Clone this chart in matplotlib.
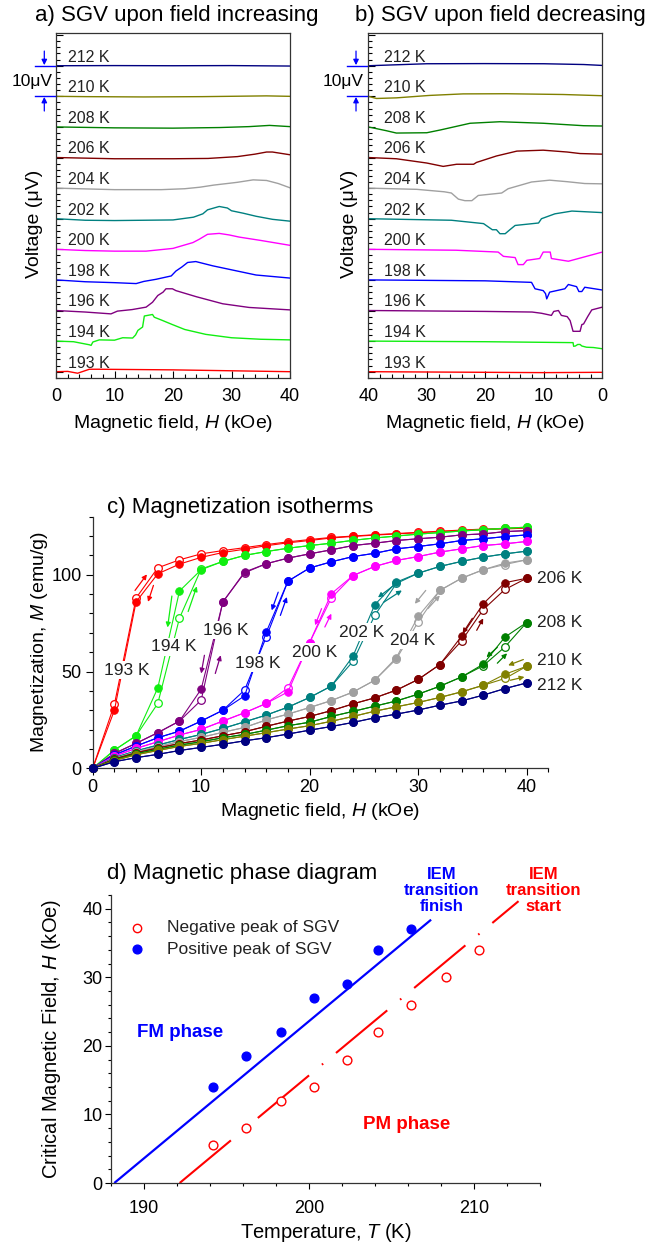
import numpy as np
import matplotlib
matplotlib.use("Agg")
import matplotlib.pyplot as plt
from matplotlib.ticker import MultipleLocator, NullFormatter

plt.rcParams['font.family'] = ['Liberation Sans', 'DejaVu Sans']
plt.rcParams['mathtext.fontset'] = 'custom'
plt.rcParams['mathtext.rm'] = 'Liberation Sans'
plt.rcParams['mathtext.it'] = 'Liberation Sans:italic'

W, Hpx = 667, 1242

temps = [193, 194, 196, 198, 200, 202, 204, 206, 208, 210, 212]
colors = ['#ff0000', '#11ee11', '#800080', '#0000ff', '#ff00ff', '#008080',
          '#a0a0a0', '#800000', '#008000', '#808000', '#000080']

# ---- a) SGV, field increasing: (H kOe, signal uV relative to baseline)
inc_193 = [(0, 0), (2, 0.1), (3.7, -0.5), (5.7, 0.8), (7.4, 0.8), (20, 0.6), (30, 0.3), (40, 0)]
inc_194 = [(0, 0), (3, -0.2), (5.7, -1.2), (6.0, -1.4), (6.3, -0.3), (7.4, 0.4), (10, 0.3),
           (11.4, 1.1), (13.1, 1.0), (13.6, 2.0), (14, 3.5), (14.8, 4.6), (15.1, 8.2),
           (16.5, 8.7), (16.8, 7.8), (18, 6.9), (19.9, 5.4), (22, 3.8), (25.6, 2.2),
           (30, 1.1), (35, 0.6), (40, 0.4)]
inc_196 = [(0, 0), (5, -0.5), (9.4, -1.1), (10.5, -0.2), (13, 0.3), (15.4, 1.1), (16.5, 2.7),
           (17.4, 4.9), (18.3, 6.0), (18.8, 7.1), (19.9, 7.1), (20.5, 6.5), (24, 4.5),
           (28.5, 2.2), (33, 1.0), (40, 0.2)]
inc_198 = [(0, 0), (5, -0.6), (10, -0.9), (13.7, -1.2), (15, -0.5), (17.1, 0.2), (19.7, 1.3),
           (20.5, 2.9), (21.5, 4.2), (22.5, 5.7), (23.9, 6.0), (26.8, 4.6), (30, 3.3),
           (34.2, 1.6), (40, 0.6)]
inc_200 = [(0, 0), (5, -0.4), (10, -0.6), (15.4, -0.6), (20, 0.3), (23.4, 2.2), (24.5, 3.3),
           (25.9, 4.9), (27.9, 5.2), (29.6, 4.7), (31.3, 4.0), (35, 2.9), (40, 1.3)]
inc_202 = [(0, 0), (5, -0.5), (10, -0.6), (20, -0.4), (23.5, 0.5), (25.1, 1.6), (25.9, 2.9),
           (27.9, 4.0), (29.3, 3.5), (30, 2.6), (32, 1.8), (34.2, 0.8), (37, -0.2), (40, -0.8)]
inc_204 = [(0, 0), (10, -0.5), (18, -0.5), (22, -0.2), (24.6, 0.3), (27, 1.0), (29.7, 1.6),
           (31, 1.9), (33.7, 2.7), (36, 2.5), (38, 1.5), (40, 0.1)]
inc_206 = [(0, 0), (10, -0.4), (20, -0.4), (26, -0.3), (31, 0.3), (34, 1.1), (36, 1.8),
           (37, 1.8), (40, 0.9)]
inc_208 = [(0, 0), (10, -0.3), (20, -0.4), (28, -0.2), (33, 0.1), (36.5, 0.5), (40, 0.1)]
inc_210 = [(0, 0), (5, -0.1), (15, -0.2), (25, -0.1), (36, 0.15), (40, 0)]
inc_212 = [(0, 0), (10, 0.05), (20, 0), (30, 0.05), (40, -0.1)]

# ---- b) SGV, field decreasing
dec_193 = [(40, 0), (20, -0.2), (10, -0.3), (0, -0.2)]
dec_194 = [(40, 0), (20, -0.2), (5, -0.5), (4.9, -1.7), (4.6, -1.6), (4.2, -1.1), (3.8, -1.1),
           (3.5, -1.6), (2.7, -2.0), (1.5, -2.1), (0, -2.5)]
dec_196 = [(40, 0), (20, -0.3), (12, -0.5), (10.4, -0.9), (8.7, -1.6), (8.3, -0.3), (7.5, 0),
           (7.0, -1.6), (6.0, -2.0), (5.5, -3.3), (5.0, -6.8), (3.8, -6.8), (3.5, -4.6),
           (3.2, -4.4), (2.5, -2), (1.8, 0.2), (0, 1.1)]
dec_198 = [(40, 0), (20, -0.3), (12.1, -0.8), (11.5, -2.9), (10.1, -3.5), (9.7, -4.5),
           (9.5, -6.2), (9.0, -4.0), (6.4, -2.9), (5.8, -1.5), (4.4, -2.2), (4.0, -3.8),
           (3.5, -3.8), (3.0, -2.4), (0, -3.3)]
dec_200 = [(40, 0), (25, -0.3), (17.8, -0.9), (16.9, -2.3), (14.9, -2.7), (14.4, -5.0),
           (13.5, -5.0), (12.9, -3.6), (10.7, -3.0), (10.1, -0.9), (8.9, -0.9), (8.7, -3.0),
           (5.8, -3.9), (0, -0.9)]
dec_202 = [(40, 0), (25.8, -0.5), (20.3, -1.6), (18.8, -3.6), (18.1, -3.6), (17.5, -4.9),
           (16.6, -4.9), (15.8, -3.6), (14.9, -2.2), (10.9, -1.4), (10.4, 0), (8.1, 1.6),
           (5.2, 2.5), (0, 2.0)]
dec_204 = [(40, 0), (31.7, -0.4), (27, -1.2), (25.8, -1.6), (24.6, -3.6), (23.5, -4.1),
           (22.3, -4.1), (21.2, -2.4), (17.2, -1.6), (16.1, -0.2), (12.1, 2.0), (9, 2.6),
           (6, 2.1), (3, 1.5), (0, 1.4)]
dec_206 = [(40, 0), (35.2, -0.4), (30, -1.8), (27.2, -2.9), (24.9, -2.2), (22, -2.2),
           (21.5, -1.6), (18.1, 0.5), (14.6, 2.1), (10.1, 2.4), (6, 1.8), (3.8, 1.3), (0, 1.1)]
dec_208 = [(40, 0), (37, -1.2), (35.2, -2.0), (30, -1.9), (27.7, -1.0), (22.6, 1.2),
           (17.5, 1.7), (10.1, 1.2), (3.2, 0.4), (0, 0.3)]
dec_210 = [(40, 0), (38.6, -0.7), (35.2, -0.5), (29.5, 0.3), (23.8, 0.8), (16.4, 0.85),
           (6.7, 0.6), (0, 0.2)]
dec_212 = [(40, 0), (30, 0.65), (20.3, 0.7), (10, 0.65), (3.2, 0.4), (0, 0.1)]

inc_traces = [inc_193, inc_194, inc_196, inc_198, inc_200, inc_202, inc_204, inc_206,
              inc_208, inc_210, inc_212]
dec_traces = [dec_193, dec_194, dec_196, dec_198, dec_200, dec_202, dec_204, dec_206,
              dec_208, dec_210, dec_212]

# ---- c) magnetization isotherms, M (emu/g) at H = 0..40 kOe
H_field = [0, 2, 4, 6, 8, 10, 12, 14, 16, 18, 20, 22, 24, 26, 28, 30, 32, 34, 36, 38, 40]
M193_up = [0, 30, 86, 100.5, 105.5, 109, 111.5, 113.2, 115, 116.5, 117.7, 119, 119.8, 120.5,
           121.1, 121.7, 122.3, 122.8, 123.3, 123.7, 124.1]
M193_dn = [0, 33, 88, 103.6, 107.7, 110.8, 112.5, 114, 115.6, 117, 118.2, 119.3, 120, 120.7,
           121.3, 121.9, 122.5, 123.1, 123.6, 124, 124.4]
M194_up = [0, 9.4, 16.8, 41.5, 91.6, 102.6, 106.9, 110, 112, 113.7, 115.1, 116.3, 117.8, 119,
           120, 121, 121.8, 122.6, 123.3, 124, 124.6]
M194_dn = [0, 9.4, 16.8, 33.5, 77.6, 103, 106.9, 110, 112, 113.7, 115.1, 116.3, 117.8, 119,
           120, 121, 121.8, 122.6, 123.3, 124, 124.6]
M196_up = [0, 7.7, 12.9, 18.4, 24.4, 40.9, 85.9, 101.4, 105.7, 108.6, 110.8, 112.9, 115.1,
           116.3, 117.7, 118.6, 119.4, 120.6, 121.1, 122.3, 122.8]
M196_dn = [0, 7.7, 12.9, 18.4, 24.4, 35.2, 86, 101, 105.7, 108.6, 110.8, 112.9, 115.1,
           116.3, 117.7, 118.6, 119.4, 120.6, 121.1, 122.3, 122.8]
M198_up = [0, 6.9, 11.5, 15.8, 19.2, 24.4, 30, 37.4, 70.4, 96.7, 103.5, 106.7, 109.4, 111.1,
           113.4, 114.6, 116, 117.7, 118.6, 119.7, 120.6]
M198_dn = [0, 6.9, 11.5, 15.8, 19.2, 24.4, 30, 40.4, 67.8, 96.7, 103.5, 106.7, 109.4, 111.1,
           113.4, 114.6, 116, 117.7, 118.6, 119.7, 120.6]
M200_up = [0, 6.3, 10.3, 13.7, 17.2, 20.1, 24.4, 28.7, 33.5, 39.5, 65, 90.2, 99.6, 104.3,
           107.4, 109.4, 111.7, 113.4, 115.1, 116, 117.2]
M200_dn = [0, 6.3, 10.3, 13.7, 17.2, 20.1, 24.4, 28.7, 33.5, 41.5, 65, 88, 99.6, 104.3,
           107.4, 109.4, 111.7, 113.4, 115.1, 116, 117.2]
M202_up = [0, 5.5, 9, 12, 14.9, 17.5, 20.6, 24, 27.5, 31.6, 36.6, 42.5, 58, 84.5, 96.2, 100.8,
           104.3, 106.9, 109.1, 110.8, 112.2]
M202_dn = [0, 5.5, 9, 12, 14.9, 17.5, 20.6, 24, 27.5, 31.6, 36.6, 42.5, 55.3, 79, 95.5, 100.8,
           104.3, 106.9, 109.1, 110.8, 112.2]
M204_up = [0, 5, 8.5, 11.2, 13.8, 16, 18.6, 21.1, 25, 28, 31.4, 35, 39.4, 45.5, 57.2, 78.5,
           91.9, 98.2, 102.6, 106, 107.7]
M204_dn = [0, 5, 8.5, 11.2, 13.8, 16, 18.6, 21.1, 25, 28, 31.4, 35, 39.4, 45.5, 56.5, 75.6,
           91.9, 98.2, 102.6, 105.3, 107.7]
M206_up = [0, 4.8, 8, 10.5, 12.8, 14.6, 16.8, 18.9, 21.7, 24.4, 26.8, 29.8, 33.3, 36.4, 40.4,
           45.9, 53.6, 68.2, 85, 95.9, 98.2]
M206_dn = [0, 4.8, 8, 10.5, 12.8, 14.6, 16.8, 18.9, 21.7, 24.4, 26.8, 29.8, 33.3, 36.4, 40.4,
           45.9, 53.6, 65.8, 82, 92.4, 98.2]
M208_up = [0, 4.3, 7.5, 9.8, 12, 13.7, 15.8, 17.5, 19.7, 22, 23.8, 26.8, 29.4, 32.1, 34.8,
           38.3, 42.4, 47.2, 53.8, 67.8, 75.3]
M208_dn = [0, 4.3, 7.5, 9.8, 12, 13.7, 15.8, 17.5, 19.7, 22, 23.8, 26.8, 29.4, 32.1, 34.8,
           38.3, 42.4, 47.2, 53, 62.7, 75.3]
M210_up = [0, 4, 7, 9.2, 11.3, 12.9, 14.8, 16.6, 18.4, 20.3, 22, 24.3, 26.8, 29.5, 31.8, 34,
           36.6, 39.5, 42.9, 48.6, 52.7]
M210_dn = [0, 4, 7, 9.2, 11.3, 12.9, 14.8, 16.6, 18.4, 20.3, 22, 24.3, 26.8, 29.5, 31.8, 34,
           36.6, 39.5, 42.9, 46.4, 52.7]
M212_up = [0, 3.4, 5.5, 7.2, 9.2, 10.8, 12.4, 14.2, 15.8, 17.7, 19.7, 21.6, 23.7, 26.1, 28,
           30.1, 32.6, 34.8, 37.8, 41.2, 44.1]
M212_dn = M212_up

M_up = [M193_up, M194_up, M196_up, M198_up, M200_up, M202_up, M204_up, M206_up, M208_up,
        M210_up, M212_up]
M_dn = [M193_dn, M194_dn, M196_dn, M198_dn, M200_dn, M202_dn, M204_dn, M206_dn, M208_dn,
        M210_dn, M212_dn]

# direction arrows beside each transition: (temperature, tail, tip) in (H, M)
arrows_c = [
    (193, (3.9, 91.9), (5.0, 100.2)), (193, (5.6, 94.5), (5.1, 86.0)),
    (194, (7.3, 89.0), (6.9, 72.8)), (194, (8.8, 81.0), (9.6, 94.0)),
    (196, (10.3, 58.4), (10.0, 49.0)), (196, (11.3, 49.0), (11.8, 58.4)),
    (198, (17.1, 91.0), (16.5, 81.6)), (198, (17.3, 79.0), (17.9, 88.5)),
    (200, (21.1, 82.5), (20.5, 73.9)), (200, (21.4, 73.0), (22.0, 79.9)),
    (202, (28.0, 95.5), (26.3, 88.3)), (202, (26.8, 85.7), (28.5, 91.9)),
    (204, (30.7, 91.9), (29.7, 85.0)), (204, (30.9, 82.5), (32.0, 89.3)),
    (206, (35.0, 77.5), (34.1, 69.7)), (206, (35.4, 71.3), (36.0, 77.5)),
    (208, (37.3, 62.5), (36.3, 57.4)), (208, (37.3, 54.3), (38.2, 59.4)),
    (210, (39.7, 56.2), (38.3, 53.2)), (210, (38.5, 45.5), (39.8, 47.2)),
]
# label anchor positions (H, M) in panel c
labels_c = [(3.1, 50.7), (7.5, 62.7), (12.3, 71.3), (15.2, 54.3), (20.5, 60.0), (24.8, 70.4),
            (29.5, 66.1), (40.95, 98.2), (40.95, 75.3), (40.95, 55.5), (40.95, 42.9)]

# ---- d) phase diagram
T_neg = [194.2, 196.2, 198.3, 200.3, 202.3, 204.2, 206.2, 208.3, 210.3]
H_neg = [5.5, 8, 12, 14, 18, 22, 26, 30, 34]
T_pos = [194.2, 196.2, 198.3, 200.3, 202.3, 204.2, 206.2]
H_pos = [14, 18.5, 22, 27, 29, 34, 37]
fit_finish_T = [188.2, 207.4]
fit_finish_H = [0, 38.4]
fit_start_T = [192.16, 212.7]
fit_start_H = [0, 41.1]


def box(l, t, r, b):
    return [l / W, 1 - b / Hpx, (r - l) / W, (b - t) / Hpx]


fig = plt.figure(figsize=(W / 100, Hpx / 100), dpi=100)

# ---------------- panels a and b
for k, (traces, title, tx) in enumerate([(inc_traces, 'a) SGV upon field increasing', 35),
                                         (dec_traces, 'b) SGV upon field decreasing', 355)]):
    left = 56 if k == 0 else 368.3
    ax = fig.add_axes(box(left, 33, left + 234, 378))
    for i, (tr, c, T) in enumerate(zip(traces, colors, temps)):
        arr = np.array(tr, dtype=float)
        ax.plot(arr[:, 0], arr[:, 1] + 10 * i, color=c, lw=1.0)
        lx = 2.0 if k == 0 else 37.4
        ax.text(lx, 10 * i + 2.8, f'{T} K', fontsize=11.5, ha='left', va='center',
                color='#222222')
    ax.set_ylim(-2.06, 110.7)
    if k == 0:
        ax.set_xlim(0, 40)
    else:
        ax.set_xlim(40, 0)
    ax.xaxis.set_major_locator(MultipleLocator(10))
    ax.xaxis.set_minor_locator(MultipleLocator(2))
    ax.yaxis.set_major_locator(MultipleLocator(10))
    ax.yaxis.set_minor_locator(MultipleLocator(2))
    ax.yaxis.set_major_formatter(NullFormatter())
    ax.tick_params(which='both', direction='in', width=0.8, labelsize=13, pad=7)
    ax.tick_params(which='major', length=5)
    ax.tick_params(which='minor', length=3)
    for s in ax.spines.values():
        s.set_linewidth(0.9)
        s.set_color('#333333')
    ax.set_xlabel('Magnetic field, $H$ (kOe)', fontsize=14, labelpad=6)
    ax.set_ylabel('Voltage (μV)', fontsize=14)
    ax.yaxis.set_label_coords(-0.056 if k == 0 else -0.044, 0.446)
    fig.text(tx / W, 1 - 15 / Hpx, title, fontsize=16, ha='left', va='center')

    # 10 uV scale bar outside left spine
    if k == 0:
        xs, xa, xt = -3.6, -2.0, -4.0
    else:
        xs, xa, xt = 43.7, 42.1, 44.3
    for yv in (100, 90):
        ax.plot([xs, 0 if k == 0 else 40], [yv, yv], color='#0000ff', lw=1.0, clip_on=False)
    ax.annotate('', xy=(xa, 100.2), xytext=(xa, 104.8), annotation_clip=False,
                arrowprops=dict(arrowstyle='-|>', color='#0000ff', lw=0.9, mutation_scale=8,
                                shrinkA=0, shrinkB=0))
    ax.annotate('', xy=(xa, 89.8), xytext=(xa, 85.2), annotation_clip=False,
                arrowprops=dict(arrowstyle='-|>', color='#0000ff', lw=0.9, mutation_scale=8,
                                shrinkA=0, shrinkB=0))
    ax.text(xt, 95, '10μV', fontsize=12.5, ha='center', va='center', clip_on=False)

# ---------------- panel c
axc = fig.add_axes(box(92.7, 516.7, 548.3, 768.3))
for i, (T, c) in enumerate(zip(temps, colors)):
    axc.plot(H_field, M_dn[i], '-o', color=c, lw=0.8, ms=5.5, mew=0.9,
             mfc='white', mec=c, zorder=2 + i * 0.1, clip_on=False)
    axc.plot(H_field, M_up[i], '-o', color=c, lw=0.8, ms=5.5, mew=0.6,
             mfc=c, mec=c, zorder=2.05 + i * 0.1, clip_on=False)
for T, tail, tip in arrows_c:
    c = colors[temps.index(T)]
    axc.annotate('', xy=tip, xytext=tail,
                 arrowprops=dict(arrowstyle='-|>', color=c, lw=0.9, mutation_scale=7,
                                 shrinkA=0, shrinkB=0), zorder=5)
for i, (T, (lx, ly)) in enumerate(zip(temps, labels_c)):
    ha = 'left' if i >= 7 else 'center'
    axc.text(lx, ly, f'{T} K', fontsize=12.5, ha=ha, va='center', color='#222222',
             bbox=dict(facecolor='white', edgecolor='none', pad=1.0), zorder=10,
             clip_on=False)
axc.set_xlim(0, 42)
axc.set_ylim(0, 130)
axc.spines['top'].set_visible(False)
axc.spines['right'].set_visible(False)
for s in ('left', 'bottom'):
    axc.spines[s].set_linewidth(0.9)
    axc.spines[s].set_color('#333333')
axc.xaxis.set_major_locator(MultipleLocator(10))
axc.xaxis.set_minor_locator(MultipleLocator(2))
axc.yaxis.set_major_locator(MultipleLocator(50))
axc.yaxis.set_minor_locator(MultipleLocator(10))
axc.tick_params(which='both', direction='out', width=0.8, labelsize=13, pad=3)
axc.tick_params(which='major', length=5)
axc.tick_params(which='minor', length=3)
axc.set_xlabel('Magnetic field, $H$ (kOe)', fontsize=14, labelpad=3)
axc.set_ylabel('Magnetization, $M$ (emu/g)', fontsize=14, labelpad=1)
fig.text(107 / W, 1 - 507 / Hpx, 'c) Magnetization isotherms', fontsize=16,
         ha='left', va='center')

# ---------------- panel d
axd = fig.add_axes(box(111, 895, 540, 1183))
axd.plot(fit_finish_T, fit_finish_H, color='#0000ff', lw=1.6, solid_capstyle='butt')
axd.plot(fit_start_T, fit_start_H, color='#ff0000', lw=1.5,
         linestyle=(0, (32, 8, 0.8, 8)), solid_capstyle='butt', dash_capstyle='butt')
axd.plot(T_pos, H_pos, 'o', color='#0000ff', ms=6.3, zorder=4)
axd.plot(T_neg, H_neg, 'o', mfc='white', mec='#ff0000', mew=1.0, ms=6.3, zorder=4)
# legend drawn by hand
axd.plot([189.56], [37.2], 'o', mfc='white', mec='#ff0000', mew=1.0, ms=6)
axd.plot([189.56], [34.1], 'o', color='#0000ff', ms=6.3)
axd.text(191.4, 37.2, 'Negative peak of SGV', fontsize=12.5, va='center', color='#222222')
axd.text(191.4, 34.1, 'Positive peak of SGV', fontsize=12.5, va='center', color='#222222')
axd.text(189.56, 22.0, 'FM phase', fontsize=13.5, fontweight='bold', color='#0000ff',
         va='center', ha='left')
axd.text(203.3, 8.55, 'PM phase', fontsize=13.5, fontweight='bold', color='#ff0000',
         va='center', ha='left')
axd.text(208.05, 42.6, 'IEM\ntransition\nfinish', fontsize=12, fontweight='bold',
         color='#0000ff', ha='center', va='center', linespacing=1.08, clip_on=False)
axd.text(214.2, 42.6, 'IEM\ntransition\nstart', fontsize=12, fontweight='bold',
         color='#ff0000', ha='center', va='center', linespacing=1.08, clip_on=False)
axd.set_xlim(188, 214)
axd.set_ylim(0, 42)
axd.spines['top'].set_visible(False)
axd.spines['right'].set_visible(False)
for s in ('left', 'bottom'):
    axd.spines[s].set_linewidth(0.9)
    axd.spines[s].set_color('#333333')
axd.xaxis.set_major_locator(MultipleLocator(10))
axd.xaxis.set_minor_locator(MultipleLocator(2))
axd.yaxis.set_major_locator(MultipleLocator(10))
axd.yaxis.set_minor_locator(MultipleLocator(2))
axd.tick_params(which='both', direction='out', width=0.8, labelsize=13)
axd.tick_params(axis='x', pad=8)
axd.tick_params(axis='y', pad=2)
axd.tick_params(which='major', length=4)
axd.tick_params(which='minor', length=2.5)
axd.set_xlabel('Temperature, $T$ (K)', fontsize=14.5, labelpad=3)
axd.set_ylabel('Critical Magnetic Field, $H$ (kOe)', fontsize=14.5, labelpad=14)
fig.text(107 / W, 1 - 873 / Hpx, 'd) Magnetic phase diagram', fontsize=16,
         ha='left', va='center')

fig.savefig('out.png', dpi=100)
